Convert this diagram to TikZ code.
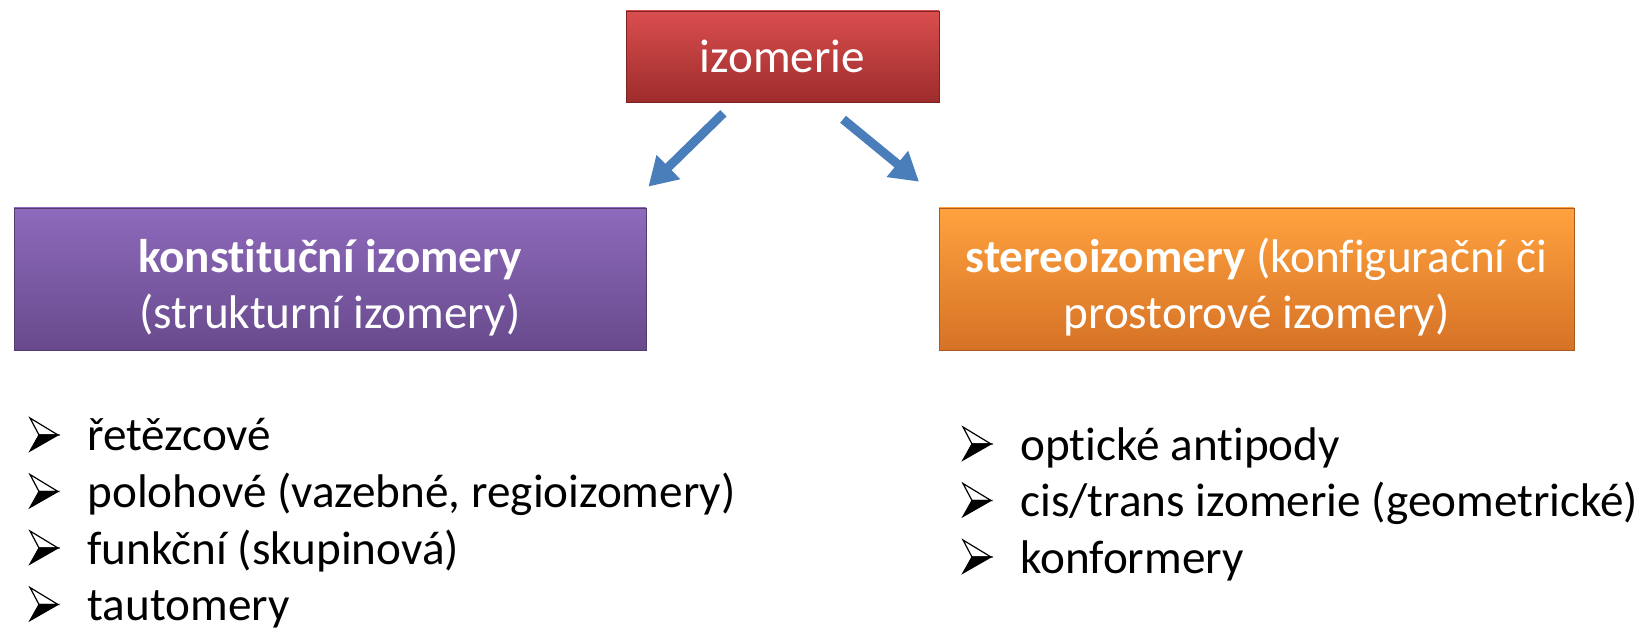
\documentclass[tikz,border=0pt]{standalone}
\usepackage{fontspec}
\setmainfont{Carlito}[Ligatures=CommonOff]
\usetikzlibrary{arrows.meta}

\definecolor{redtop}{RGB}{218,78,78}
\definecolor{redbot}{RGB}{158,44,44}
\definecolor{purtop}{RGB}{142,106,188}
\definecolor{purbot}{RGB}{104,74,140}
\definecolor{orgtop}{RGB}{255,162,62}
\definecolor{orgbot}{RGB}{214,114,38}
\definecolor{arrblue}{RGB}{74,126,187}

\begin{document}
\begin{tikzpicture}[x=0.5pt, y=-0.5pt,
    every node/.style={font=\fontsize{23.6}{28}\selectfont},
    box/.style={rectangle, inner sep=0pt},
    boxtext/.style={text=white, align=center, inner sep=0pt},
    arr/.style={arrblue, line width=4.5pt, -{Triangle[length=14pt, width=16pt]}},
    item/.style={anchor=base west, inner sep=0pt},
    bulletarrow/.pic={
        \filldraw[fill=white, line width=0.6pt, line join=miter] (0,-33) -- (28,-16) -- (9,-16) -- cycle;
        \filldraw[line width=0.6pt, line join=miter] (9,-16) -- (28,-16) -- (0,0) -- cycle;
    }]
        % Fix the page size
        \useasboundingbox[fill=white] (0,0) rectangle (1649,630);

        % Draw the three boxes
        \node[box, text=white, top color=redtop, bottom color=redbot, draw=redbot!80!black,
              minimum width=156.5pt, minimum height=45.5pt] (izo) at (782.5,56.5) {izomerie};
        \node[box, top color=purtop, bottom color=purbot, draw=purbot!80!black,
              minimum width=316pt, minimum height=71pt] (kon) at (330,279) {};
        \node[box, top color=orgtop, bottom color=orgbot, draw=orgbot!80!black,
              minimum width=317.5pt, minimum height=71pt] (ste) at (1256.5,279) {};

        % Texts of the two lower boxes
        \node[boxtext] (kontxt) at ([yshift=-4.2pt]kon.center)
              {\textbf{konstituční izomery}\\[0pt](strukturní izomery)};
        \node[boxtext] (stetxt) at ([yshift=-4.2pt]ste.center)
              {\textbf{stereoizomery} (konfigurační či\\[0pt]prostorové izomery)};

        % Draw the arrows between the boxes
        \draw[arr, shorten <=7.8pt, shorten >=15pt] ([xshift=-24pt]izo.south) -- ([xshift=148.5pt]kon.north);
        \draw[arr, shorten <=13.3pt, shorten >=20.4pt] ([xshift=20pt]izo.south) -- ([xshift=-153pt]ste.north);

        % List the kinds under each box
        \foreach \txt [count=\i] in {řetězcové, {polohové (vazebné, regioizomery)},
                                     {funkční (skupinová)}, tautomery}
        {
            \node[item] (l\i) at (87,{451+56.5*(\i-1)}) {\txt};
            \pic at ([xshift=-28.5pt]l\i.base west) {bulletarrow};
        }
        \foreach \txt [count=\i] in {optické antipody, {cis/trans izomerie (geometrické)},
                                     konformery}
        {
            \node[item] (r\i) at (1020,{460+56.5*(\i-1)}) {\txt};
            \pic at ([xshift=-28.5pt]r\i.base west) {bulletarrow};
        }
    \end{tikzpicture}
\end{document}
